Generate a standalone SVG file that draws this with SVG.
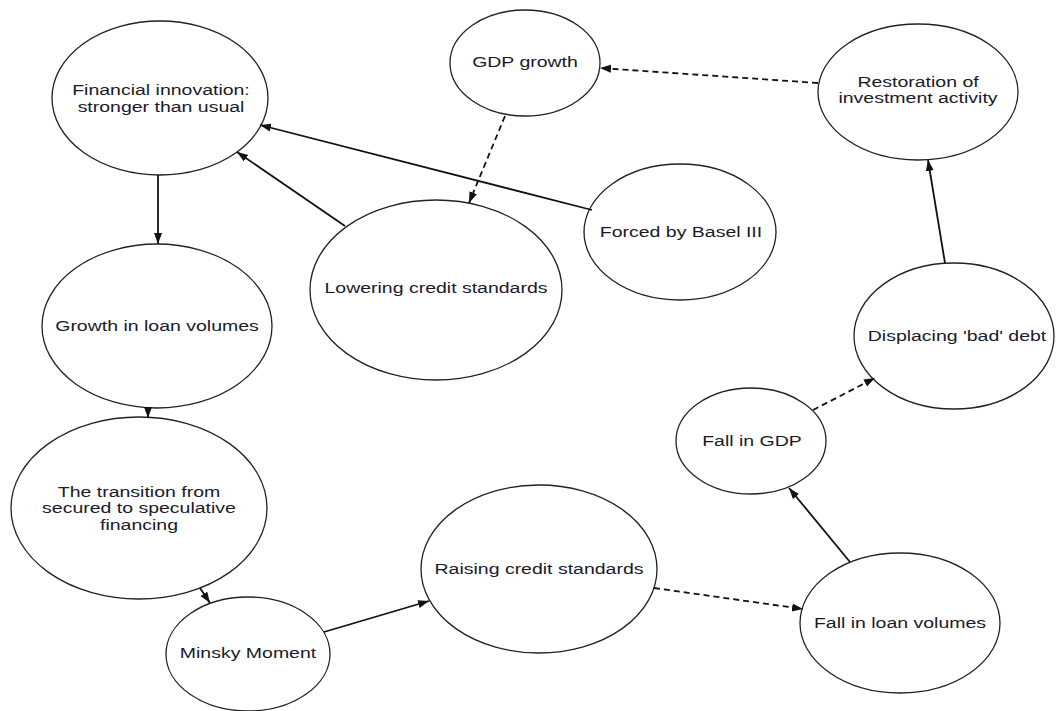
<svg xmlns="http://www.w3.org/2000/svg" width="1056" height="711" viewBox="0 0 1056 711">
<style>
.n ellipse{fill:#fff;stroke:#222;stroke-width:1.3}
.n text{font-family:"Liberation Sans",Arial,sans-serif;font-size:15px;fill:#1a1a2a;text-anchor:middle}
.c line{stroke:#111;stroke-width:1.8;fill:none}
.c .d{stroke-dasharray:6,4}
</style>
<defs>
<marker id="ah" markerUnits="userSpaceOnUse" markerWidth="12" markerHeight="10" refX="11" refY="4" orient="auto">
<path d="M0,0 L11,4 L0,8 z" fill="#111"/>
</marker>
</defs>
<rect width="1056" height="711" fill="#fff"/>
<g class="n" id="financial">
<ellipse cx="160" cy="98" rx="108" ry="77"/>
<text transform="translate(161,0) scale(1.3,1)"><tspan x="0" y="95">Financial innovation:</tspan><tspan x="0" y="112">stronger than usual</tspan></text>
</g>
<g class="n" id="gdpgrowth">
<ellipse cx="525" cy="63" rx="75" ry="53"/>
<text transform="translate(525,0) scale(1.3,1)" x="0" y="67">GDP growth</text>
</g>
<g class="n" id="restoration">
<ellipse cx="918" cy="92" rx="100" ry="68"/>
<text transform="translate(918,0) scale(1.3,1)"><tspan x="0" y="87">Restoration of</tspan><tspan x="0" y="103">investment activity</tspan></text>
</g>
<g class="n" id="basel">
<ellipse cx="680" cy="232" rx="96" ry="68"/>
<text transform="translate(681,0) scale(1.3,1)" x="0" y="237">Forced by Basel III</text>
</g>
<g class="n" id="lowering">
<ellipse cx="436" cy="290" rx="126" ry="90"/>
<text transform="translate(436,0) scale(1.3,1)" x="0" y="293">Lowering credit standards</text>
</g>
<g class="n" id="growth">
<ellipse cx="157" cy="326" rx="115" ry="82"/>
<text transform="translate(157,0) scale(1.3,1)" x="0" y="331">Growth in loan volumes</text>
</g>
<g class="n" id="displacing">
<ellipse cx="954" cy="336" rx="100" ry="73"/>
<text transform="translate(957,0) scale(1.3,1)" x="0" y="341">Displacing 'bad' debt</text>
</g>
<g class="n" id="fallgdp">
<ellipse cx="751" cy="441" rx="75" ry="53"/>
<text transform="translate(752,0) scale(1.3,1)" x="0" y="446">Fall in GDP</text>
</g>
<g class="n" id="transition">
<ellipse cx="139" cy="508" rx="128" ry="91"/>
<text transform="translate(139,0) scale(1.3,1)"><tspan x="0" y="497">The transition from</tspan><tspan x="0" y="513">secured to speculative</tspan><tspan x="0" y="530">financing</tspan></text>
</g>
<g class="n" id="raising">
<ellipse cx="539" cy="569" rx="118" ry="84"/>
<text transform="translate(539,0) scale(1.3,1)" x="0" y="574">Raising credit standards</text>
</g>
<g class="n" id="fallloan">
<ellipse cx="900" cy="623" rx="100" ry="70"/>
<text transform="translate(900,0) scale(1.3,1)" x="0" y="628">Fall in loan volumes</text>
</g>
<g class="n" id="minsky">
<ellipse cx="248" cy="654" rx="82" ry="57"/>
<text transform="translate(248,0) scale(1.3,1)" x="0" y="658">Minsky Moment</text>
</g>
<g class="c" id="connectors">
<line x1="158" y1="175" x2="158" y2="244" marker-end="url(#ah)"/>
<line x1="345" y1="226" x2="237" y2="152" marker-end="url(#ah)"/>
<line x1="592" y1="210" x2="260" y2="125" marker-end="url(#ah)"/>
<line class="d" x1="505" y1="116" x2="469" y2="203" marker-end="url(#ah)"/>
<line class="d" x1="818" y1="83" x2="600" y2="68" marker-end="url(#ah)"/>
<line x1="148" y1="408" x2="148" y2="418" marker-end="url(#ah)"/>
<line x1="200" y1="588" x2="210" y2="603" marker-end="url(#ah)"/>
<line x1="324" y1="632" x2="429" y2="601" marker-end="url(#ah)"/>
<line class="d" x1="654" y1="588" x2="803" y2="609" marker-end="url(#ah)"/>
<line x1="850" y1="562" x2="789" y2="488" marker-end="url(#ah)"/>
<line class="d" x1="813" y1="410" x2="875" y2="378" marker-end="url(#ah)"/>
<line x1="945" y1="263" x2="928" y2="160" marker-end="url(#ah)"/>
</g>
</svg>
